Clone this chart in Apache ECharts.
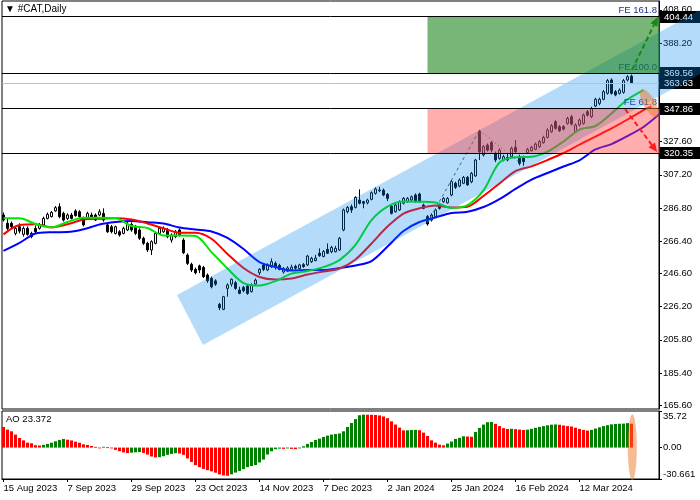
<!DOCTYPE html>
<html><head><meta charset="utf-8">
<script src="https://cdn.jsdelivr.net/npm/echarts@6/dist/echarts.min.js"></script>
<style>html,body{margin:0;padding:0;background:#fff}#c{width:700px;height:500px}</style>
</head><body><div id="c"></div>
<script>
// ---------- data ----------
const dateTicks = [0,16,32,48,64,80,96,112,128,144];
const dateLabels = ['15 Aug 2023','7 Sep 2023','29 Sep 2023','23 Oct 2023','14 Nov 2023','7 Dec 2023','2 Jan 2024','25 Jan 2024','16 Feb 2024','12 Mar 2024'];

const opens = [282.5,277.4,277.4,271.2,275.3,270.6,274.3,269.2,274.3,274.3,
276.4,280.4,281.5,285.0,287.6,283.5,280.4,282.5,285.0,284.5,
280.4,280.4,282.5,282.5,282.5,283.5,276.4,275.3,271.2,272.2,
271.2,273.3,276.8,275.3,273.3,268.2,265.1,261.0,265.1,271.2,
272.2,273.3,267.1,269.2,273.3,267.1,257.9,252.2,249.1,251.2,
250.3,245.6,243.6,242.0,227.6,224.5,237.4,240.0,240.9,236.4,
238.0,238.9,235.4,240.1,247.0,251.8,248.7,250.7,252.8,251.5,
247.5,248.0,249.0,251.0,249.5,252.0,251.8,253.8,254.5,259.0,
257.0,261.4,259.9,259.9,261.0,273.3,284.5,287.6,287.2,291.7,
290.7,290.0,292.1,295.8,297.4,297.8,295.2,288.0,284.5,285.6,
289.7,290.7,291.7,294.8,295.4,288.6,281.5,279.4,281.5,288.6,
290.7,290.0,294.8,302.0,300.3,302.0,305.6,302.9,306.5,334.1,
319.4,325.5,327.0,320.4,317.3,316.3,317.9,318.3,324.1,318.3,
317.9,320.8,322.0,322.9,324.5,327.0,330.2,333.7,339.8,336.8,
336.8,338.8,342.9,333.7,337.8,338.8,346.0,342.9,349.5,351.1,
353.6,357.3,365.5,358.3,357.3,357.9,365.5,367.9];
const highs = [284.0,280.4,278.5,275.5,277.4,275.5,275.5,272.2,276.0,277.5,
281.5,284.0,285.0,288.0,289.7,284.5,283.5,283.8,286.0,285.5,
281.5,284.5,284.0,283.5,286.0,286.6,277.5,276.4,276.0,273.2,
275.3,278.5,278.0,276.4,274.3,269.2,266.0,267.0,272.0,275.3,
275.5,274.5,271.2,273.2,274.3,268.2,258.9,253.2,250.2,252.0,
251.2,246.6,244.6,243.0,228.5,232.8,240.5,243.5,242.0,238.4,
239.0,239.8,240.5,243.5,249.8,253.0,252.8,255.8,254.0,252.5,
250.5,251.0,252.0,252.0,252.5,253.0,258.0,256.8,258.0,262.0,
261.0,265.0,263.5,263.5,269.0,286.5,288.0,289.0,294.0,298.3,
291.2,292.5,297.0,299.5,299.8,298.8,296.0,289.0,289.5,291.5,
293.5,293.5,294.5,295.8,296.2,289.5,282.5,283.5,286.5,289.5,
293.5,293.5,304.0,303.0,305.0,306.5,306.5,309.0,317.0,334.8,
325.5,326.5,328.0,321.5,323.5,319.5,320.0,324.5,328.6,319.5,
319.0,323.8,325.0,327.0,328.6,331.2,335.8,338.4,340.8,337.8,
337.8,342.9,344.0,338.8,341.9,344.9,347.0,349.0,354.6,354.6,
359.3,366.1,366.5,359.3,360.3,366.1,368.5,368.9];
const lows = [278.5,273.3,274.0,270.0,271.2,269.2,269.8,268.2,271.0,273.5,
275.5,279.8,281.0,284.5,280.5,278.5,279.5,279.8,281.5,280.8,
275.5,279.8,279.5,278.8,281.8,278.4,271.5,271.2,270.5,269.2,
270.6,272.6,272.2,270.2,267.2,264.1,259.8,257.9,264.5,270.5,
271.5,268.2,265.5,268.2,269.2,258.5,251.8,247.5,246.0,246.8,
243.8,240.8,237.4,239.0,224.0,224.0,232.3,238.5,236.5,233.8,
235.0,233.5,234.8,239.5,245.6,248.0,248.0,250.0,249.0,248.5,
246.5,247.5,248.5,248.8,249.0,250.0,251.2,253.0,254.0,256.8,
256.5,258.5,259.0,259.5,260.5,272.5,283.5,283.8,286.5,289.0,
286.6,289.0,291.5,295.0,296.5,294.0,291.0,282.8,284.0,285.0,
289.0,290.0,291.0,290.0,290.0,286.0,276.0,278.5,281.0,285.8,
290.0,289.5,294.0,298.5,299.5,301.5,300.5,302.0,306.0,316.3,
318.5,321.5,321.0,315.0,316.5,315.5,315.5,317.5,320.4,313.0,
312.8,320.0,321.5,322.3,323.8,326.3,329.5,333.0,335.0,333.5,
334.5,338.0,337.5,333.0,337.0,338.0,343.0,342.0,348.8,350.0,
353.0,356.5,356.5,355.5,356.5,357.0,364.5,363.0];
const closes = [279.5,274.3,275.3,274.3,272.6,274.3,270.6,271.2,272.2,276.4,
280.4,282.9,284.1,287.0,281.5,279.4,282.5,280.4,282.1,281.5,
276.4,283.5,280.4,279.4,284.5,279.4,272.2,272.2,275.3,270.2,
274.3,276.8,273.3,271.2,268.2,265.1,261.0,266.1,271.2,274.3,
274.3,269.2,270.2,272.2,270.2,259.3,252.8,248.7,247.0,248.7,
244.6,242.1,238.4,240.0,225.5,232.3,239.5,243.0,237.4,234.3,
236.0,234.3,239.5,242.5,249.1,249.1,251.8,253.8,250.3,249.0,
249.5,250.0,250.5,249.8,251.8,250.8,257.3,255.9,256.0,257.5,
260.0,259.0,262.6,262.0,268.2,285.6,287.2,285.6,293.3,289.7,
289.7,291.7,296.2,298.5,297.9,294.8,292.7,283.5,288.6,290.7,
292.7,292.7,293.7,290.7,290.7,286.6,277.0,282.5,285.6,286.6,
292.7,292.7,303.0,299.5,304.0,305.6,301.0,308.1,316.3,321.4,
324.5,322.4,322.4,316.3,322.4,318.3,316.3,323.5,321.4,314.3,
315.3,322.8,324.1,326.1,327.6,330.2,334.7,337.4,335.8,334.3,
335.3,341.9,338.4,337.8,340.9,343.9,343.9,348.0,353.6,353.6,
358.3,365.1,357.3,356.3,359.3,365.1,367.5,363.6];

// Alligator lines, sampled every LINE_STEP bars (already shifted forward)
const LINE_STEP = 4;
const jaw = [260.4,265.3,271.1,271.9,272.0,273.7,276.7,278.2,278.8,278.0,277.3,274.8,273.6,272.4,268.4,261.6,253.6,250.5,248.4,248.7,248.7,249.9,251.5,254.2,263.1,272.7,278.2,281.0,283.7,284.5,287.4,292.3,298.5,304.3,308.3,312.3,316.1,322.8,326.1,331.0,336.6,344.6];
const teeth = [270.6,276.3,276.8,274.9,276.8,279.7,280.2,280.5,279.7,277.3,274.3,271.6,271.6,267.9,258.5,249.9,244.4,242.9,243.5,245.9,247.8,249.6,255.2,265.0,275.4,283.4,286.6,288.3,287.1,287.6,294.2,301.9,309.5,312.4,316.3,320.6,325.8,330.7,335.7,341.2,347.0];
const teethEnd = [162, 349.3];
const lips = [280.5,280.5,277.0,274.9,278.2,280.8,280.8,280.6,275.7,274.5,269.9,269.9,269.6,259.7,249.6,240.7,239.2,241.9,246.5,248.1,250.5,254.8,264.1,279.4,287.7,290.8,290.7,290.2,286.8,288.6,297.6,314.8,318.0,318.3,321.5,327.7,335.0,337.2,344.9,353.5,359.3];

// Awesome Oscillator
const ao = [20.1,17.5,15.9,12.7,9.4,7.1,4.8,4.2,2.3,2.0,
2.7,3.6,4.8,6.2,7.5,8.4,7.7,7.0,5.8,4.8,
3.2,2.6,1.6,0.7,-0.5,0.8,0.3,-0.7,-2.2,-3.5,
-4.7,-5.3,-5.0,-4.6,-4.3,-5.2,-6.8,-8.7,-9.6,-9.4,
-8.4,-7.1,-6.2,-5.5,-5.8,-7.1,-10.6,-14.0,-17.1,-19.1,
-20.8,-22.0,-23.2,-24.5,-26.2,-27.2,-27.5,-26.1,-24.4,-22.8,
-21.0,-19.1,-18.0,-17.0,-14.5,-11.7,-6.8,-3.6,-1.6,-1.0,
-1.2,-0.6,-1.3,-1.5,-0.6,1.3,3.6,5.5,7.5,8.7,
10.4,11.7,12.7,13.3,13.8,15.9,20.1,24.0,27.8,31.6,
32.2,32.1,32.0,31.8,31.4,30.4,28.7,25.6,22.5,19.5,
16.8,16.9,17.2,17.3,17.0,14.6,11.3,7.1,4.8,2.9,
2.2,3.9,5.9,8.5,9.5,11.1,10.8,10.6,15.3,19.2,
22.5,24.8,25.0,23.2,21.0,19.0,18.2,18.4,18.0,17.6,
17.2,17.5,18.3,19.3,20.2,21.0,21.8,22.4,22.6,22.3,
21.6,21.0,20.6,19.4,18.2,17.3,16.6,17.3,18.6,19.8,
21.0,21.9,22.7,23.1,23.3,23.4,23.9,23.372];

const priceTicks = [165.60,185.40,205.80,226.20,246.60,266.40,286.80,307.20,327.60,388.20,408.60];
const aoTicks = [-30.661, 0, 35.72];
const aoTickLabels = ['-30.661', '0.00', '35.72'];
const priceTags = [404.44, 369.56, 363.63, 347.86, 320.35];
const levelLines = [404.44, 369.56, 347.86, 320.35];
const bidPrice = 363.63;
const feLabels = [[404.44,'FE 161.8'],[369.56,'FE 100.0'],[347.86,'FE 61.8']];
const fePoints = [[106,277.8],[119,334.6],[130,312.75]];
const zoneStart = 106;
const greenZone = [404.44, 369.56];
const redZone = [347.86, 320.35];
const channelPts = [[43.375,233.3],[189.1,428.6],[189.1,389.2],[49.875,202.6]];
const upArrow = [[157.1,371.6],[163.6,404.2]];
const downArrow = [[155.4,347.6],[163.4,321.2]];
const markEllipse = [161.4,351.3];
const aoEllipse = [157.2,0.3];

// ---------- chart ----------
const X_MIN = -0.375, X_MAX = 163.875;
const FONT = "'Liberation Sans', 'DejaVu Sans', sans-serif";
const chart = echarts.init(document.getElementById('c'));

function ov(name, z, render, extra) {
  return Object.assign({type:'custom', name, xAxisIndex:0, yAxisIndex:0, z, silent:true,
    data:[[0,300]], encode:{x:0,y:1}, renderItem: render}, extra || {});
}
function crisp(y){ return Math.floor(y) + 0.5; }

function arrow(api, pts, color) {
  const a = api.coord(pts[0]), b = api.coord(pts[1]);
  const dx = b[0]-a[0], dy = b[1]-a[1], L = Math.hypot(dx,dy), ux = dx/L, uy = dy/L;
  const hl = 9, hw = 4;
  const bx = b[0]-ux*hl, by = b[1]-uy*hl;
  return {type:'group', children:[
    {type:'line', shape:{x1:a[0],y1:a[1],x2:bx,y2:by}, style:{stroke:color,lineWidth:2,lineDash:[5,3]}},
    {type:'polygon', shape:{points:[[b[0],b[1]],[bx-uy*hw,by+ux*hw],[bx+uy*hw,by-ux*hw]]}, style:{fill:color}}
  ]};
}

const candleData = opens.map((o,i)=>[i,o,highs[i],lows[i],closes[i]]);
const toPts = (arr)=>arr.map((v,k)=>[k*LINE_STEP, v]);

const option = {
  animation:false,
  backgroundColor:'#fff',
  title:[
    {text:'\u25BC #CAT,Daily', left:5, top:4, padding:0, textStyle:{fontFamily:FONT,fontSize:10,fontWeight:'normal',color:'#000'}},
    {text:'AO 23.372', left:6, top:414, padding:0, textStyle:{fontFamily:FONT,fontSize:9.5,fontWeight:'normal',color:'#000'}}
  ],
  grid:[
    {left:2, top:1, width:657, height:408, show:true, borderColor:'#000', borderWidth:1, backgroundColor:'transparent', outerBoundsMode:'none'},
    {left:2, top:411, width:657, height:68, show:true, borderColor:'#000', borderWidth:1, backgroundColor:'transparent', outerBoundsMode:'none'}
  ],
  xAxis:[
    {type:'value', gridIndex:0, min:X_MIN, max:X_MAX, show:false,
      axisLine:{show:false, onZero:false}, axisTick:{show:false}, axisLabel:{show:false}, splitLine:{show:false}},
    {type:'value', gridIndex:1, min:X_MIN, max:X_MAX, position:'bottom',
      axisLine:{show:true, onZero:false, lineStyle:{color:'#000'}},
      axisTick:{show:true, customValues:dateTicks, length:3, lineStyle:{color:'#000'}},
      axisLabel:{show:true, customValues:dateTicks, align:'left', margin:4, fontSize:9.5, fontFamily:FONT, color:'#000',
        formatter:(v)=>{const k=dateTicks.indexOf(v); return k>=0?dateLabels[k]:'';}},
      splitLine:{show:false}}
  ],
  yAxis:[
    {type:'value', gridIndex:0, position:'right', min:163.27, max:414.03,
      axisLine:{show:true, onZero:false, lineStyle:{color:'#000'}},
      axisTick:{show:true, customValues:priceTicks, length:3, lineStyle:{color:'#000'}},
      axisLabel:{show:true, customValues:priceTicks, margin:4, fontSize:9.5, fontFamily:FONT, color:'#000',
        formatter:(v)=>v.toFixed(2)},
      splitLine:{show:false}},
    {type:'value', gridIndex:1, position:'right', min:-30.661, max:35.72,
      axisLine:{show:true, onZero:false, lineStyle:{color:'#000'}},
      axisTick:{show:true, customValues:aoTicks, length:3, lineStyle:{color:'#000'}},
      axisLabel:{show:true, customValues:aoTicks, margin:4, fontSize:9.5, fontFamily:FONT, color:'#000',
        verticalAlignMaxLabel:'top', verticalAlignMinLabel:'bottom',
        formatter:(v)=>{const k=aoTicks.indexOf(v); return k>=0?aoTickLabels[k]:'';}},
      splitLine:{show:false}}
  ],
  series:[
    {type:'custom', name:'candles', xAxisIndex:0, yAxisIndex:0, z:2, silent:true, data:candleData,
      encode:{x:0, y:[1,2,3,4]},
      renderItem:(params, api)=>{
        const i=api.value(0), o=api.value(1), h=api.value(2), l=api.value(3), c=api.value(4);
        const pO=api.coord([i,o]), pC=api.coord([i,c]), pH=api.coord([i,h]), pL=api.coord([i,l]);
        const x=pO[0];
        const top=Math.min(pO[1],pC[1]), bot=Math.max(pO[1],pC[1]);
        return {type:'group', children:[
          {type:'line', shape:{x1:x,y1:pH[1],x2:x,y2:pL[1]}, style:{stroke:'#000',lineWidth:1}},
          {type:'rect', shape:{x:x-1,y:top,width:2,height:Math.max(bot-top,0.6)}, style:{fill:c>=o?'#fff':'#000',stroke:'#000',lineWidth:1}}
        ]};
      }},
    {type:'line', name:'jaw', xAxisIndex:0, yAxisIndex:0, z:3, data:toPts(jaw), showSymbol:false, smooth:0.3, silent:true,
      lineStyle:{color:'#0000ff', width:2}},
    {type:'line', name:'teeth', xAxisIndex:0, yAxisIndex:0, z:3, data:toPts(teeth).concat([teethEnd]), showSymbol:false, smooth:0.3, silent:true,
      lineStyle:{color:'#ff0000', width:2}},
    {type:'line', name:'lips', xAxisIndex:0, yAxisIndex:0, z:3, data:toPts(lips), showSymbol:false, smooth:0.3, silent:true,
      lineStyle:{color:'#00e600', width:2}},
    ov('feLabels', 4, (p, api)=>({type:'group', children: feLabels.map(([v,t])=>{
      const q=api.coord([X_MAX, v]);
      return {type:'text', style:{text:t, x:q[0]-2, y:q[1]-1, align:'right', verticalAlign:'bottom', fill:'#1a2f8f', font:'9.5px '+FONT}};
    })}), {clip:false}),
    ov('feLines', 4, (p, api)=>{
      const a=api.coord(fePoints[0]), b=api.coord(fePoints[1]), c=api.coord(fePoints[2]);
      return {type:'group', children:[
        {type:'line', shape:{x1:a[0],y1:a[1],x2:b[0],y2:b[1]}, style:{stroke:'#2e6b3a',lineWidth:1,lineDash:[3,3]}},
        {type:'line', shape:{x1:b[0],y1:b[1],x2:c[0],y2:c[1]}, style:{stroke:'#3a4a3a',lineWidth:1,lineDash:[1,3]}}
      ]};
    }),
    ov('tags', 4, (p, api)=>({type:'group', children: priceTags.flatMap(v=>{
      const q=api.coord([X_MAX, v]); const x0=q[0]+1, y=Math.round(q[1]);
      return [
        {type:'rect', shape:{x:x0, y:y-6, width:41, height:12}, style:{fill:'#000'}},
        {type:'text', style:{text:v.toFixed(2), x:x0+4, y:y, align:'left', verticalAlign:'middle', fill:'#fff', font:'9.5px '+FONT}}
      ];
    })}), {clip:false}),
    ov('channel', 5, (p, api)=>({type:'polygon', shape:{points:channelPts.map(pt=>api.coord(pt))}, style:{fill:'rgba(5,138,238,0.3)'}}), {clip:false}),
    ov('zones', 6, (p, api)=>{
      const mk=(z, fill)=>{const a=api.coord([zoneStart, z[0]]), b=api.coord([X_MAX, z[1]]);
        return {type:'rect', shape:{x:a[0], y:a[1], width:b[0]-a[0]+1, height:b[1]-a[1]}, style:{fill}};};
      return {type:'group', children:[mk(greenZone,'rgba(20,130,20,0.58)'), mk(redZone,'rgba(255,60,60,0.42)')]};
    }, {clip:false}),
    ov('levels', 7, (p, api)=>{
      const kids = levelLines.map(v=>{const a=api.coord([X_MIN,v]), b=api.coord([X_MAX,v]); const y=crisp(a[1]);
        return {type:'line', shape:{x1:a[0],y1:y,x2:b[0],y2:y}, style:{stroke:'#000',lineWidth:1}};});
      const a=api.coord([X_MIN,bidPrice]), b=api.coord([X_MAX,bidPrice]); const y=crisp(a[1]);
      kids.push({type:'line', shape:{x1:a[0],y1:y,x2:b[0],y2:y}, style:{stroke:'#c0c0c0',lineWidth:1}});
      return {type:'group', children:kids};
    }),
    ov('arrows', 8, (p, api)=>({type:'group', children:[arrow(api, upArrow, '#138a13'), arrow(api, downArrow, '#ff1a1a')]}), {clip:false}),
    ov('ellipse', 9, (p, api)=>{const c=api.coord(markEllipse);
      return {type:'circle', x:c[0], y:c[1], scaleX:15.5, scaleY:6, rotation:-1.06, shape:{cx:0,cy:0,r:1}, style:{fill:'rgba(240,120,40,0.5)'}};}, {clip:false}),
    {type:'custom', name:'AO', xAxisIndex:1, yAxisIndex:1, z:2, silent:true,
      data: ao.map((v,i)=>[i, v, (i>0 && v>ao[i-1]) ? 1 : 0]),
      encode:{x:0, y:1},
      renderItem:(params, api)=>{
        const i=api.value(0), v=api.value(1), up=api.value(2);
        const p0=api.coord([i,0]), p1=api.coord([i,v]);
        const top=Math.min(p0[1],p1[1]), h=Math.abs(p1[1]-p0[1]);
        return {type:'rect', shape:{x:p0[0]-1.5, y:top, width:3, height:Math.max(h,0.8)}, style:{fill: up ? '#008000' : '#ff0000'}};
      }},
    {type:'custom', name:'aoEllipse', xAxisIndex:1, yAxisIndex:1, z:9, silent:true, clip:false,
      data:[[0,0]], encode:{x:0,y:1},
      renderItem:(p, api)=>{const c=api.coord(aoEllipse);
        return {type:'circle', x:c[0], y:c[1], scaleX:4.5, scaleY:33, shape:{cx:0,cy:0,r:1}, style:{fill:'rgba(240,120,40,0.5)'}};}}
  ]
};
chart.setOption(option);
</script>
</body></html>
